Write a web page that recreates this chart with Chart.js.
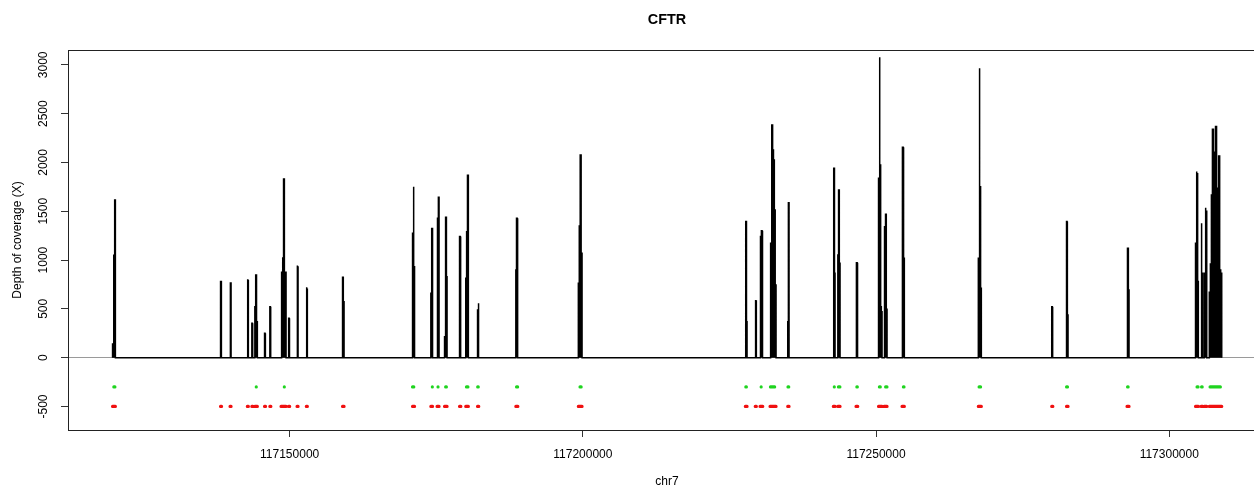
<!DOCTYPE html>
<html><head><meta charset="utf-8">
<style>
html,body{margin:0;padding:0;overflow:hidden;background:#fff;width:1254px;height:487px}
#wrap{position:relative;width:1334px;height:487px}
</style>
<script src="https://cdn.jsdelivr.net/npm/chart.js@4.4.1/dist/chart.umd.min.js"></script>
</head><body><div id="wrap"><canvas id="c" width="1334" height="487"></canvas></div>
<script>
// ---------- data ----------
const chartTitle = 'CFTR';
const xTitle = 'chr7';
const yTitle = 'Depth of coverage (X)';
const xTicks = [117150000, 117200000, 117250000, 117300000];
const yTicks = [-500, 0, 500, 1000, 1500, 2000, 2500, 3000];
const xRange = [117112200, 117316500];
const yRange = [-741, 3152];

// sequenced target regions (chr7 bp) and depth profile inside each
const targetStart = [117119800,117138216,117139836,117142787,117143554,117144066,117145720,117146624,117148533,117149829,
  117151262,117152848,117159021,117170958,117174079,117175136,117176415,117178973,117180030,117182043,
  117188574,117199232,117227711,117229399,117230217,117231923,117234941,117242717,117243485,117246588,
  117250425,117251363,117254433,117267444,117279961,117282485,117292802,117304483,117305422,117305984,117306836];
const targetEnd = [117120280,117138387,117140007,117142957,117143724,117144492,117145890,117146794,117149386,117150000,
  117151432,117153018,117159277,117171299,117174369,117175477,117176841,117179195,117180474,117182247,
  117188915,117199863,117228000,117229586,117230678,117232946,117235163,117243007,117243860,117246878,
  117251022,117251875,117254825,117267956,117280148,117282741,117293143,117304961,117305711,117306393,117308951];
const targetDepth = [
  [140,690,1050,1614],[780,789],[772,765],[803,790],[352,345],[522,847,367],[250,240],[522,515],
  [80,875,1021,1831,875,875],[403,395],[943,930],[721,700],[824,574],[1275,1752,932],[660,1322],
  [98,1428,1643],[215,714,1438,830],[1240,1155],[813,1291,1869],[489,557],[898,1428,557],
  [762,1349,2077,1070],[1059,1394,369],[591,580],[660,1240,1301,437],[222,1172,2384,2128,2025,1513,745],
  [369,1588],[1001,1941,865],[1052,1718,967],[164,973,830],[1838,3078,1974,522,471],[420,1342,1469,496],
  [1206,2156,1787,1018],[1018,2965,1752,711],[522,505],[1394,1370,437],[489,1121,694],
  [1172,1906,1883,779],[1377,865],[865,1537,1500],
  [670,960,1667,2340,2094,2104,2367,1462,1736,2067,899,865]
];
// CFTR exons (chr7 bp)
const exonStart = [117120017,117144307,117149088,117170953,117174330,117175302,117176602,117180154,117182070,117188695,
  117199518,117227793,117230407,117231988,117234984,117242880,117243586,117246728,117250573,117251635,
  117254667,117267576,117282492,117292896,117304742,117305513,117306962];
const exonEnd = [117120201,117144417,117149196,117171168,117174419,117175465,117176727,117180400,117182162,117188877,
  117199709,117227887,117230493,117232711,117235112,117242917,117243836,117246807,117250723,117251862,
  117254767,117267824,117282647,117292985,117304914,117305618,117308718];
const exonRowValue = -300;
const targetRowValue = -500;

// ---------- build datasets from the arrays ----------
const coverage = [];
targetStart.forEach((s, i) => {
  const e = targetEnd[i], lv = targetDepth[i], n = lv.length, w = (e - s) / n;
  coverage.push({x: s, y: 0});
  lv.forEach((v, k) => { coverage.push({x: s + k * w, y: v}); coverage.push({x: s + (k + 1) * w, y: v}); });
  coverage.push({x: e, y: 0});
});
function segs(starts, ends, yv) {
  const out = [];
  starts.forEach((s, i) => { out.push({x: s, y: yv}); out.push({x: ends[i], y: yv}); out.push({x: ends[i], y: null}); });
  return out;
}
const FONT = '"Liberation Sans", Arial, Helvetica, sans-serif';

const framePlugin = {
  id: 'frame',
  afterDraw(chart) {
    const {ctx, chartArea: a, scales: {y}} = chart;
    ctx.save();
    ctx.fillStyle = '#000';
    ctx.font = '12px ' + FONT;
    ctx.textAlign = 'center';
    ctx.textBaseline = 'middle';
    yTicks.forEach(v => {
      const py = y.getPixelForValue(v);
      ctx.save(); ctx.translate(43.5, py); ctx.rotate(-Math.PI / 2);
      ctx.fillText(String(v), 0, 0); ctx.restore();
    });
    ctx.strokeStyle = '#222'; ctx.lineWidth = 1;
    ctx.strokeRect(Math.round(a.left) + 0.5, Math.round(a.top) + 0.5, Math.round(a.right - a.left), Math.round(a.bottom - a.top));
    ctx.restore();
  }
};

new Chart(document.getElementById('c'), {
  type: 'line',
  data: {
    datasets: [
      {label: 'coverage', data: coverage, borderColor: '#000', backgroundColor: '#000', fill: 'origin', borderWidth: 1.5, pointRadius: 0, tension: 0, order: 1},
      {label: 'exons', data: segs(exonStart, exonEnd, exonRowValue), borderColor: '#1fd41f', borderWidth: 3.2, borderCapStyle: 'round', pointRadius: 0, spanGaps: false, fill: false, order: 2},
      {label: 'targets', data: segs(targetStart, targetEnd, targetRowValue), borderColor: '#f01010', borderWidth: 3.2, borderCapStyle: 'round', pointRadius: 0, spanGaps: false, fill: false, order: 3}
    ]
  },
  options: {
    responsive: false, animation: false, devicePixelRatio: 1,
    layout: {padding: 0},
    plugins: {
      legend: {display: false}, tooltip: {enabled: false},
      title: {display: true, text: chartTitle, color: '#000', font: {family: FONT, size: 14.4, weight: 'bold'}, padding: {top: 11, bottom: 21.7}}
    },
    scales: {
      x: {
        type: 'linear', min: xRange[0], max: xRange[1],
        afterBuildTicks: s => { s.ticks = xTicks.map(v => ({value: v})); },
        afterFit: s => { s.height = 57; },
        ticks: {color: '#000', font: {family: FONT, size: 12}, padding: 10, maxRotation: 0, autoSkip: false, callback: v => String(v)},
        grid: {drawOnChartArea: false, drawTicks: true, tickLength: 7, tickColor: '#333'},
        border: {display: false},
        title: {display: true, text: xTitle, color: '#000', font: {family: FONT, size: 12, lineHeight: 1}, padding: {top: 0, bottom: -1}}
      },
      y: {
        type: 'linear', position: 'left', min: yRange[0], max: yRange[1],
        afterBuildTicks: s => { s.ticks = yTicks.map(v => ({value: v})); },
        afterFit: s => { s.width = 68; },
        ticks: {display: false},
        grid: {drawOnChartArea: true, drawTicks: true, tickLength: 7, tickColor: '#333',
               color: c => (c.tick && c.tick.value === 0) ? '#9a9a9a' : 'rgba(0,0,0,0)', lineWidth: 1},
        border: {display: false},
        title: {display: true, text: yTitle, color: '#000', font: {family: FONT, size: 12}, padding: {top: 10, bottom: 0}}
      },
      y2: {
        type: 'linear', position: 'right', min: 0, max: 1, display: true,
        afterFit: s => { s.width = 68; },
        ticks: {display: false}, grid: {display: false}, border: {display: false}
      }
    }
  },
  plugins: [framePlugin]
});
</script></body></html>
